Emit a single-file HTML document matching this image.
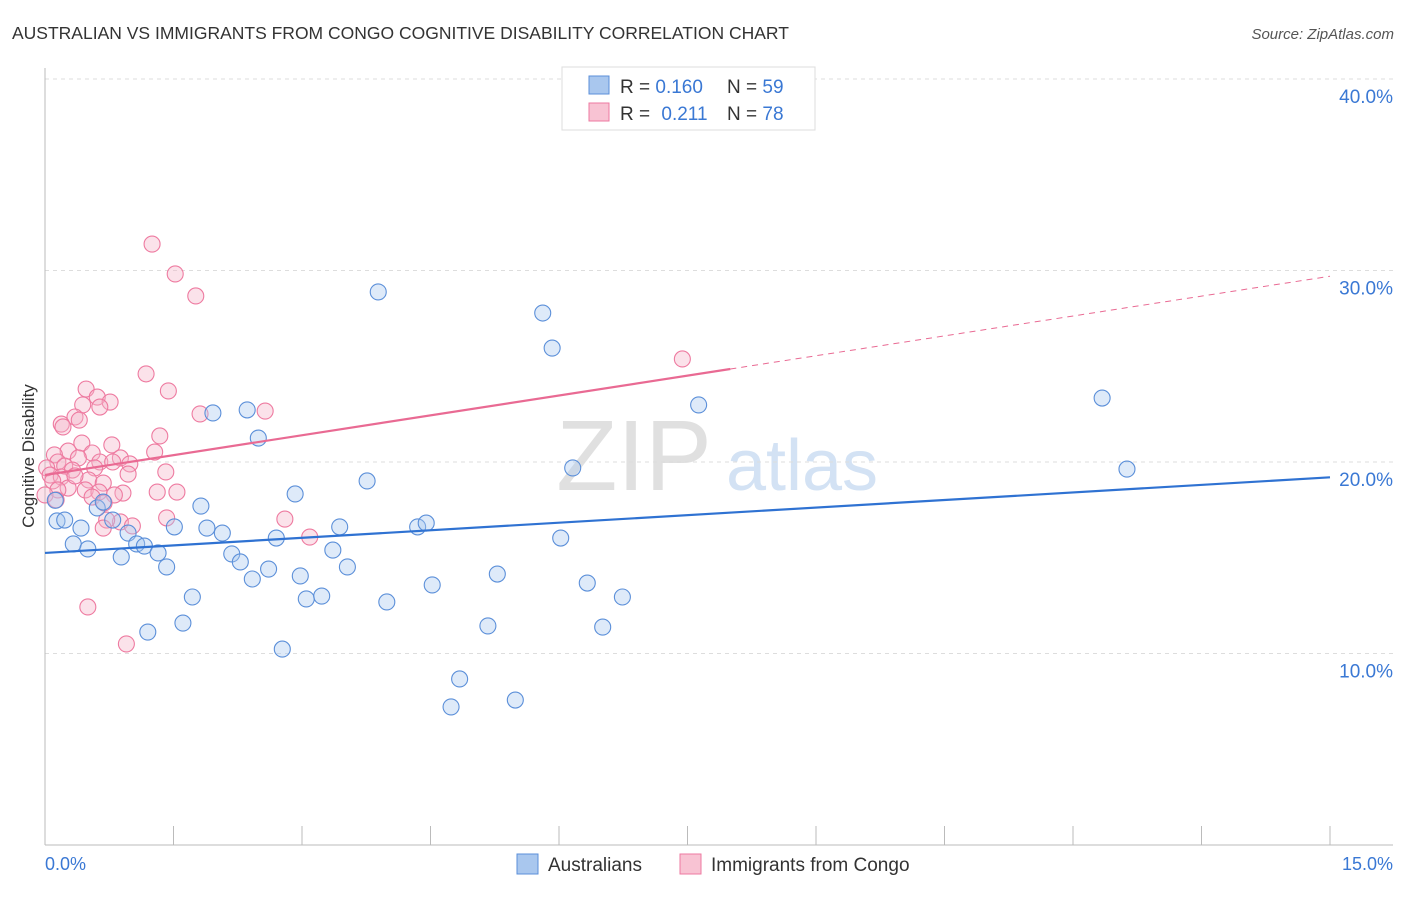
<!DOCTYPE html>
<html><head><meta charset="utf-8"><style>
body{margin:0;background:#fff;font-family:"Liberation Sans",sans-serif;}
svg text{font-family:"Liberation Sans",sans-serif;}
</style></head><body>
<svg id="chart" width="1406" height="892" xmlns="http://www.w3.org/2000/svg">
<text x="12" y="39" font-size="17.5" fill="#333">AUSTRALIAN VS IMMIGRANTS FROM CONGO COGNITIVE DISABILITY CORRELATION CHART</text>
<text x="1394" y="39" font-size="15" fill="#555" font-style="italic" text-anchor="end">Source: ZipAtlas.com</text>
<text x="634" y="490" font-size="100" fill="#e0e0e0" font-family="Liberation Serif" text-anchor="middle">ZIP</text>
<text x="802" y="490" font-size="72" fill="#d3e2f4" text-anchor="middle">atlas</text>
<g id="grid"></g>
<g id="axes"></g>
<g id="points"></g>
<g id="trend"></g>
<text x="0" y="0" transform="translate(34,456) rotate(-90)" font-size="17" fill="#333" text-anchor="middle">Cognitive Disability</text>
<text x="45" y="870" font-size="18" fill="#3a78d4">0.0%</text>
<text x="1393" y="870" font-size="18" fill="#3a78d4" text-anchor="end">15.0%</text>
<g>
<rect x="562" y="67" width="253" height="63" fill="#fff" stroke="#ddd"/>
<rect x="589" y="76" width="20" height="18" fill="#a9c7ee" stroke="#5b8fd9"/>
<rect x="589" y="103" width="20" height="18" fill="#f8c3d3" stroke="#ee7aa0"/>
<text x="620" y="93" font-size="19" fill="#333">R = <tspan fill="#3a78d4">0.160</tspan><tspan x="727">N = </tspan><tspan fill="#3a78d4">59</tspan></text>
<text x="620" y="120" font-size="19" fill="#333">R = <tspan fill="#3a78d4" dx="6">0.211</tspan><tspan x="727">N = </tspan><tspan fill="#3a78d4">78</tspan></text>
</g>
<g>
<rect x="517" y="854" width="21" height="20" fill="#a9c7ee" stroke="#5b8fd9"/>
<text x="548" y="871" font-size="19" fill="#333">Australians</text>
<rect x="680" y="854" width="21" height="20" fill="#f8c3d3" stroke="#ee7aa0"/>
<text x="711" y="871" font-size="19" fill="#333">Immigrants from Congo</text>
</g>
</svg>
<script>
const yTicks=[10,20,30,40];
const yTickLabels=["10.0%","20.0%","30.0%","40.0%"];
const xTicks=[0,1.5,3,4.5,6,7.5,9,10.5,12,13.5,15];
const blueX=[0.14,0.23,0.33,0.42,0.50,0.61,0.68,0.79,0.89,0.97,1.07,1.16,1.20,1.32,1.42,1.51,1.61,1.72,1.82,1.89,1.96,2.07,2.18,2.28,2.36,2.42,2.49,2.61,2.70,2.77,2.92,2.98,3.05,3.23,3.36,3.44,3.53,3.76,3.89,3.99,4.35,4.45,4.52,4.84,4.74,5.17,5.28,5.49,5.81,5.92,6.02,6.16,6.33,6.51,6.74,7.63,12.34,12.63,0.12];
const blueY=[16.92,16.97,15.72,16.55,15.46,17.60,17.91,16.97,15.04,16.29,15.72,15.61,11.12,15.25,14.52,16.61,11.59,12.95,17.70,16.55,22.56,16.29,15.20,14.78,22.72,13.89,21.25,14.41,16.03,10.23,18.33,14.05,12.85,13.00,15.40,16.61,14.52,19.01,28.88,12.69,16.61,16.81,13.58,8.67,7.21,11.44,14.15,7.57,27.78,25.95,16.03,19.69,13.68,11.38,12.95,22.98,23.34,19.63,18.0];
const pinkX=[1.25,1.52,1.76,7.44,1.18,1.44,0.48,0.61,0.76,0.44,0.64,0.35,0.40,0.19,0.21,1.81,2.57,1.34,0.43,0.78,0.27,0.55,0.88,1.28,0.11,0.39,0.15,0.64,0.99,0.23,0.02,0.32,0.58,0.79,1.41,0.06,0.19,0.51,0.68,0.97,0.09,0.27,0.47,0.15,0.63,0.91,1.31,1.54,0.00,0.55,0.81,0.69,0.88,0.72,1.02,1.42,2.80,3.09,0.68,0.50,0.95,0.13,0.35];
const pinkY=[31.38,29.82,28.67,25.38,24.60,23.71,23.81,23.39,23.13,22.98,22.87,22.35,22.19,21.98,21.83,22.51,22.66,21.36,20.99,20.89,20.57,20.47,20.21,20.52,20.37,20.21,20.00,20.00,19.90,19.79,19.69,19.58,19.69,20.00,19.48,19.32,19.22,19.06,18.90,19.37,19.01,18.64,18.54,18.54,18.43,18.38,18.43,18.43,18.28,18.17,18.28,17.86,16.87,16.97,16.66,17.08,17.02,16.08,16.55,12.43,10.50,18.02,19.27];
const blueTrend=[15.25,19.2];
const pinkTrend=[19.32,29.7];
const pinkSolidEnd=8.0;
const NS="http://www.w3.org/2000/svg";
const X0=45,X1=1330,Y0=845,PXY=19.15;
function sx(v){return X0+(X1-X0)*v/15;}
function sy(v){return Y0-v*PXY;}
function mk(tag,attrs,parent){const e=document.createElementNS(NS,tag);for(const k in attrs)e.setAttribute(k,attrs[k]);parent.appendChild(e);return e;}
const grid=document.getElementById('grid'),axes=document.getElementById('axes'),pts=document.getElementById('points'),tr=document.getElementById('trend');
yTicks.forEach((t,i)=>{
 const l=mk('line',{x1:45,x2:1393,y1:sy(t),y2:sy(t),stroke:'#ddd','stroke-dasharray':'4,4'},grid);
 
 
 const tx=mk('text',{x:1393,y:sy(t)+24,'font-size':19,fill:'#3a78d4','text-anchor':'end'},grid);
 tx.textContent=yTickLabels[i];
 
 
});
const ax=mk('line',{x1:45,x2:45,y1:68,y2:845,stroke:'#bbb'},axes);


const bx=mk('line',{x1:45,x2:1393,y1:845,y2:845,stroke:'#bbb'},axes);


xTicks.forEach(t=>{
 const l=mk('line',{x1:sx(t),x2:sx(t),y1:826,y2:845,stroke:'#bbb'},axes);
 
 
});
function drawPts(xs,ys,fill,stroke,name){
 xs.forEach((x,i)=>{
  const c=mk('circle',{cx:sx(x),cy:sy(ys[i]),r:8,fill:fill,'fill-opacity':0.38,stroke:stroke,'stroke-width':1.1},pts);
  
  
 });
}
drawPts(pinkX,pinkY,'#f5b4c8','#ee7aa0','congo-point');
drawPts(blueX,blueY,'#a9c7ee','#5b8fd9','australian-point');
const bl=mk('line',{x1:sx(0),y1:sy(blueTrend[0]),x2:sx(15),y2:sy(blueTrend[1]),stroke:'#2f72d2','stroke-width':2.2},tr);


const pm=pinkTrend[0]+(pinkTrend[1]-pinkTrend[0])*pinkSolidEnd/15;
const pl=mk('line',{x1:sx(0),y1:sy(pinkTrend[0]),x2:sx(pinkSolidEnd),y2:sy(pm),stroke:'#e96a93','stroke-width':2.2},tr);


const pd=mk('line',{x1:sx(pinkSolidEnd),y1:sy(pm),x2:sx(15),y2:sy(pinkTrend[1]),stroke:'#e96a93','stroke-width':1,'stroke-dasharray':'6,5'},tr);


</script>
</body></html>
